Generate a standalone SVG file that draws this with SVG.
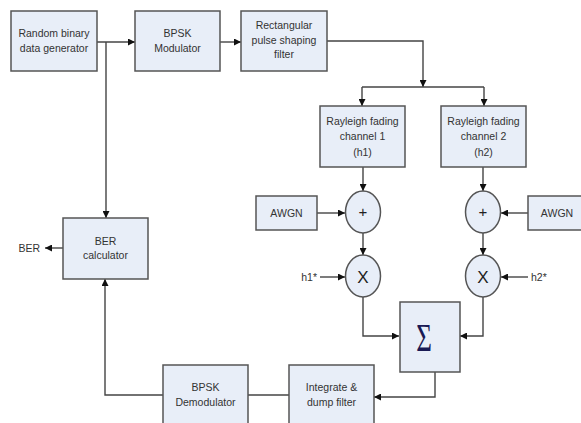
<svg xmlns="http://www.w3.org/2000/svg" width="581" height="423" viewBox="0 0 581 423">
<defs>
<marker id="ah" viewBox="0 0 10 10" refX="10" refY="5" markerWidth="8" markerHeight="7" markerUnits="userSpaceOnUse" orient="auto">
<path d="M0,0 L10,5 L0,10 z" fill="#111"/>
</marker>
<style>
.box{fill:#e8eef8;stroke:#555;stroke-width:1.5}
.t{font-family:"Liberation Sans",Arial,sans-serif;font-size:10.5px;fill:#333;text-anchor:middle}
.c{fill:none;stroke:#444;stroke-width:1.4}
.a{marker-end:url(#ah)}
.op{font-family:"Liberation Sans",Arial,sans-serif;fill:#222;text-anchor:middle}
</style>
</defs>
<rect width="581" height="423" fill="#fff"/>
<g id="connectors">
<path class="c a" d="M97,42 H135"/>
<path class="c a" d="M106,42 V218"/>
<path class="c a" d="M220,42 H241"/>
<path class="c a" d="M327,41 H423 V87"/>
<path class="c" d="M362,87 H484"/>
<path class="c a" d="M362,87 V106"/>
<path class="c a" d="M484,87 V106"/>
<path class="c a" d="M363,167 V191"/>
<path class="c a" d="M483,167 V191"/>
<path class="c a" d="M317,213 H345"/>
<path class="c a" d="M528,213 H501"/>
<path class="c a" d="M363,233 V255"/>
<path class="c a" d="M483,233 V255"/>
<path class="c a" d="M320,277 H345"/>
<path class="c a" d="M528,277 H501"/>
<path class="c a" d="M363,297 V336 H399"/>
<path class="c a" d="M483,297 V336 H460"/>
<path class="c a" d="M435,372 V397 H374"/>
<path class="c" d="M289,395 H248"/>
<path class="c a" d="M163,395 H105 V279"/>
<path class="c a" d="M63,248 H45"/>
</g>
<g id="random"><rect class="box" x="11" y="11" width="86" height="60"/><text class="t" x="54" y="37">Random binary</text><text class="t" x="54" y="52">data generator</text></g>
<g id="bpskmod"><rect class="box" x="135" y="11" width="85" height="60"/><text class="t" x="177.5" y="37">BPSK</text><text class="t" x="177.5" y="52">Modulator</text></g>
<g id="rect"><rect class="box" x="241" y="11" width="86" height="60"/><text class="t" x="284" y="29">Rectangular</text><text class="t" x="284" y="44">pulse shaping</text><text class="t" x="284" y="58">filter</text></g>
<g id="ray1"><rect class="box" x="320" y="106" width="85" height="61"/><text class="t" x="362.5" y="125">Rayleigh fading</text><text class="t" x="362.5" y="140">channel 1</text><text class="t" x="362.5" y="156">(h1)</text></g>
<g id="ray2"><rect class="box" x="441" y="106" width="85" height="61"/><text class="t" x="483.5" y="125">Rayleigh fading</text><text class="t" x="483.5" y="140">channel 2</text><text class="t" x="483.5" y="156">(h2)</text></g>
<g id="awgn1"><rect class="box" x="256" y="196" width="61" height="34"/><text class="t" x="286.5" y="217">AWGN</text></g>
<g id="awgn2"><rect class="box" x="528" y="196" width="60" height="34"/><text class="t" x="557" y="217">AWGN</text></g>
<g id="plus1"><ellipse class="box" cx="363" cy="212" rx="17.5" ry="21"/><text class="op" x="363" y="217" font-size="15">+</text></g>
<g id="plus2"><ellipse class="box" cx="483" cy="212" rx="17.5" ry="21"/><text class="op" x="483" y="217" font-size="15">+</text></g>
<g id="mul1"><ellipse class="box" cx="363" cy="276" rx="17.5" ry="21"/><text class="op" x="363" y="282.5" font-size="17">X</text></g>
<g id="mul2"><ellipse class="box" cx="483" cy="276" rx="17.5" ry="21"/><text class="op" x="483" y="282.5" font-size="17">X</text></g>
<g id="h1"><text class="t" x="317" y="281" style="text-anchor:end">h1*</text></g>
<g id="h2"><text class="t" x="531" y="281" style="text-anchor:start">h2*</text></g>
<g id="sigma"><rect class="box" x="400" y="302" width="60" height="70"/><text transform="translate(424,351) scale(0.9,1.3)" font-family="Liberation Serif,serif" font-size="30" fill="#1a1a55" text-anchor="middle">Σ</text></g>
<g id="integ"><rect class="box" x="289" y="365" width="85" height="70"/><text class="t" x="331.5" y="391">Integrate &amp;</text><text class="t" x="331.5" y="406">dump filter</text></g>
<g id="bpskdemod"><rect class="box" x="163" y="365" width="85" height="70"/><text class="t" x="205.5" y="391">BPSK</text><text class="t" x="205.5" y="406">Demodulator</text></g>
<g id="ber"><rect class="box" x="63" y="218" width="85" height="61"/><text class="t" x="105.5" y="245">BER</text><text class="t" x="105.5" y="259">calculator</text></g>
<g id="berlabel"><text class="t" x="40" y="252" style="text-anchor:end">BER</text></g>
</svg>
